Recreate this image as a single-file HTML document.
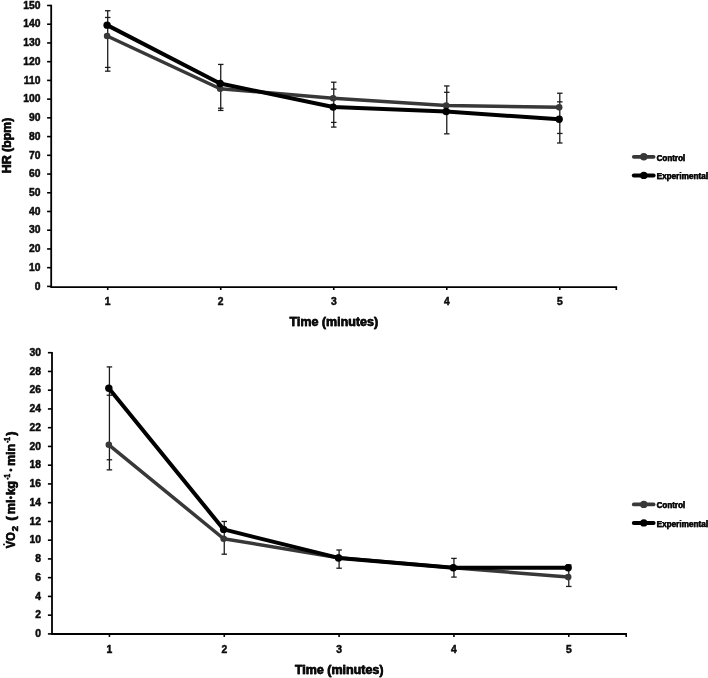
<!DOCTYPE html>
<html><head><meta charset="utf-8"><title>chart</title>
<style>html,body{margin:0;padding:0;background:#fff}svg{display:block;will-change:transform}text{font-family:"Liberation Sans",sans-serif}</style>
</head><body>
<svg width="708" height="678" viewBox="0 0 708 678">
<rect width="708" height="678" fill="#fff"/>
<path d="M51.2 4.75V287.1H617.10" stroke="#000" stroke-width="1.8" fill="none"/>
<g stroke="#000" stroke-width="1.6" fill="none">
<path d="M47.10 5.50H51.20"/>
<path d="M47.10 24.23H51.20"/>
<path d="M47.10 42.95H51.20"/>
<path d="M47.10 61.68H51.20"/>
<path d="M47.10 80.41H51.20"/>
<path d="M47.10 99.13H51.20"/>
<path d="M47.10 117.86H51.20"/>
<path d="M47.10 136.59H51.20"/>
<path d="M47.10 155.31H51.20"/>
<path d="M47.10 174.04H51.20"/>
<path d="M47.10 192.77H51.20"/>
<path d="M47.10 211.49H51.20"/>
<path d="M47.10 230.22H51.20"/>
<path d="M47.10 248.95H51.20"/>
<path d="M47.10 267.67H51.20"/>
<path d="M47.10 286.40H51.20"/>
<path d="M107.71 287.1V290.00"/>
<path d="M220.73 287.1V290.00"/>
<path d="M333.75 287.1V290.00"/>
<path d="M446.77 287.1V290.00"/>
<path d="M559.79 287.1V290.00"/>
<path d="M616.30 287.1V290.00"/>
</g>
<g font-size="10.3" font-weight="bold" text-anchor="end" fill="#0d0d0d" stroke="#0d0d0d" stroke-width="0.5">
<text x="40.40" y="8.70">150</text>
<text x="40.40" y="27.43">140</text>
<text x="40.40" y="46.15">130</text>
<text x="40.40" y="64.88">120</text>
<text x="40.40" y="83.61">110</text>
<text x="40.40" y="102.33">100</text>
<text x="40.40" y="121.06">90</text>
<text x="40.40" y="139.79">80</text>
<text x="40.40" y="158.51">70</text>
<text x="40.40" y="177.24">60</text>
<text x="40.40" y="195.97">50</text>
<text x="40.40" y="214.69">40</text>
<text x="40.40" y="233.42">30</text>
<text x="40.40" y="252.15">20</text>
<text x="40.40" y="270.87">10</text>
<text x="40.40" y="289.60">0</text>
</g>
<g font-size="10.3" font-weight="bold" text-anchor="middle" fill="#0d0d0d" stroke="#0d0d0d" stroke-width="0.5">
<text x="107.71" y="304.5">1</text>
<text x="220.73" y="304.5">2</text>
<text x="333.75" y="304.5">3</text>
<text x="446.77" y="304.5">4</text>
<text x="559.79" y="304.5">5</text>
</g>
<g stroke="#1c1c1c" stroke-width="1.3" fill="none">
<path d="M107.71 10.74V71.16"/>
<path d="M104.96 10.74H110.46"/>
<path d="M104.96 17.47H110.46"/>
<path d="M104.96 67.42H110.46"/>
<path d="M104.96 71.16H110.46"/>
<path d="M220.73 64.43V110.44"/>
<path d="M217.98 64.43H223.48"/>
<path d="M217.98 108.20H223.48"/>
<path d="M217.98 110.44H223.48"/>
<path d="M333.75 82.20V127.09"/>
<path d="M331.00 82.20H336.50"/>
<path d="M331.00 89.12H336.50"/>
<path d="M331.00 122.42H336.50"/>
<path d="M331.00 127.09H336.50"/>
<path d="M446.77 85.94V133.83"/>
<path d="M444.02 85.94H449.52"/>
<path d="M444.02 92.30H449.52"/>
<path d="M444.02 133.83H449.52"/>
<path d="M559.79 93.23V142.99"/>
<path d="M557.04 93.23H562.54"/>
<path d="M557.04 101.84H562.54"/>
<path d="M557.04 133.45H562.54"/>
<path d="M557.04 142.99H562.54"/>
</g>
<polyline points="107.11,35.99 220.13,88.74 333.15,98.29 446.17,105.58 559.19,107.36" fill="none" stroke="#383838" stroke-width="3.5" stroke-linejoin="round" stroke-linecap="round"/>
<circle cx="107.11" cy="35.99" r="3.3" fill="#383838"/>
<circle cx="220.13" cy="88.74" r="3.3" fill="#383838"/>
<circle cx="333.15" cy="98.29" r="3.3" fill="#383838"/>
<circle cx="446.17" cy="105.58" r="3.3" fill="#383838"/>
<circle cx="559.19" cy="107.36" r="3.3" fill="#383838"/>
<polyline points="107.11,25.14 220.13,83.51 333.15,107.08 446.17,111.57 559.19,119.24" fill="none" stroke="#000" stroke-width="4.0" stroke-linejoin="round" stroke-linecap="round"/>
<circle cx="107.11" cy="25.14" r="3.7" fill="#000"/>
<circle cx="220.13" cy="83.51" r="3.7" fill="#000"/>
<circle cx="333.15" cy="107.08" r="3.7" fill="#000"/>
<circle cx="446.17" cy="111.57" r="3.7" fill="#000"/>
<circle cx="559.19" cy="119.24" r="3.7" fill="#000"/>
<path d="M633.8 156.8H653.6" stroke="#383838" stroke-width="3.8" stroke-linecap="round"/>
<circle cx="643.8" cy="156.8" r="3.7" fill="#383838"/>
<text x="656.45" y="160.60" font-size="9.1" font-weight="bold" fill="#0d0d0d" stroke="#0d0d0d" stroke-width="0.25" textLength="28.6" lengthAdjust="spacingAndGlyphs">Control</text>
<text x="656.75" y="160.60" font-size="9.1" font-weight="bold" fill="#0d0d0d" stroke="#0d0d0d" stroke-width="0.25" textLength="28.6" lengthAdjust="spacingAndGlyphs">Control</text>
<path d="M633.8 175.4H653.6" stroke="#000" stroke-width="4.0" stroke-linecap="round"/>
<circle cx="643.8" cy="175.4" r="3.7" fill="#000"/>
<text x="656.45" y="179.20" font-size="9.1" font-weight="bold" fill="#0d0d0d" stroke="#0d0d0d" stroke-width="0.25" textLength="51.5" lengthAdjust="spacingAndGlyphs">Experimental</text>
<text x="656.75" y="179.20" font-size="9.1" font-weight="bold" fill="#0d0d0d" stroke="#0d0d0d" stroke-width="0.25" textLength="51.5" lengthAdjust="spacingAndGlyphs">Experimental</text>
<text x="289.30" y="326.2" font-size="12" font-weight="bold" fill="#0d0d0d" stroke="#0d0d0d" stroke-width="0.3" textLength="88.6" lengthAdjust="spacingAndGlyphs">Time (minutes)</text>
<text x="289.70" y="326.2" font-size="12" font-weight="bold" fill="#0d0d0d" stroke="#0d0d0d" stroke-width="0.3" textLength="88.6" lengthAdjust="spacingAndGlyphs">Time (minutes)</text>
<text transform="translate(10.7,173.00) rotate(-90)" font-size="12" font-weight="bold" fill="#0d0d0d" stroke="#0d0d0d" stroke-width="0.3" textLength="55.4" lengthAdjust="spacingAndGlyphs">HR (bpm)</text>
<text transform="translate(10.7,173.40) rotate(-90)" font-size="12" font-weight="bold" fill="#0d0d0d" stroke="#0d0d0d" stroke-width="0.3" textLength="55.4" lengthAdjust="spacingAndGlyphs">HR (bpm)</text>
<path d="M52.0 351.95V634.0H627.00" stroke="#000" stroke-width="1.8" fill="none"/>
<g stroke="#000" stroke-width="1.6" fill="none">
<path d="M47.90 352.70H52.00"/>
<path d="M47.90 371.45H52.00"/>
<path d="M47.90 390.19H52.00"/>
<path d="M47.90 408.94H52.00"/>
<path d="M47.90 427.69H52.00"/>
<path d="M47.90 446.43H52.00"/>
<path d="M47.90 465.18H52.00"/>
<path d="M47.90 483.93H52.00"/>
<path d="M47.90 502.67H52.00"/>
<path d="M47.90 521.42H52.00"/>
<path d="M47.90 540.17H52.00"/>
<path d="M47.90 558.91H52.00"/>
<path d="M47.90 577.66H52.00"/>
<path d="M47.90 596.41H52.00"/>
<path d="M47.90 615.15H52.00"/>
<path d="M47.90 633.90H52.00"/>
<path d="M109.42 634.0V636.90"/>
<path d="M224.26 634.0V636.90"/>
<path d="M339.10 634.0V636.90"/>
<path d="M453.94 634.0V636.90"/>
<path d="M568.78 634.0V636.90"/>
<path d="M626.20 634.0V636.90"/>
</g>
<g font-size="10.3" font-weight="bold" text-anchor="end" fill="#0d0d0d" stroke="#0d0d0d" stroke-width="0.5">
<text x="41.00" y="355.90">30</text>
<text x="41.00" y="374.65">28</text>
<text x="41.00" y="393.39">26</text>
<text x="41.00" y="412.14">24</text>
<text x="41.00" y="430.89">22</text>
<text x="41.00" y="449.63">20</text>
<text x="41.00" y="468.38">18</text>
<text x="41.00" y="487.13">16</text>
<text x="41.00" y="505.87">14</text>
<text x="41.00" y="524.62">12</text>
<text x="41.00" y="543.37">10</text>
<text x="41.00" y="562.11">8</text>
<text x="41.00" y="580.86">6</text>
<text x="41.00" y="599.61">4</text>
<text x="41.00" y="618.35">2</text>
<text x="41.00" y="637.10">0</text>
</g>
<g font-size="10.3" font-weight="bold" text-anchor="middle" fill="#0d0d0d" stroke="#0d0d0d" stroke-width="0.5">
<text x="109.42" y="652.7">1</text>
<text x="224.26" y="652.7">2</text>
<text x="339.10" y="652.7">3</text>
<text x="453.94" y="652.7">4</text>
<text x="568.78" y="652.7">5</text>
</g>
<g stroke="#1c1c1c" stroke-width="1.3" fill="none">
<path d="M109.42 366.91V469.86"/>
<path d="M106.67 366.91H112.17"/>
<path d="M106.67 395.24H112.17"/>
<path d="M106.67 459.76H112.17"/>
<path d="M106.67 469.86H112.17"/>
<path d="M224.26 521.47V554.19"/>
<path d="M221.51 521.47H227.01"/>
<path d="M221.51 530.35H227.01"/>
<path d="M221.51 554.19H227.01"/>
<path d="M339.10 549.99V568.22"/>
<path d="M336.35 549.99H341.85"/>
<path d="M336.35 568.22H341.85"/>
<path d="M453.94 558.40V577.10"/>
<path d="M451.19 558.40H456.69"/>
<path d="M451.19 577.10H456.69"/>
<path d="M568.78 564.95V586.45"/>
<path d="M566.03 564.95H571.53"/>
<path d="M566.03 586.45H571.53"/>
</g>
<polyline points="108.82,444.80 223.66,538.76 338.50,557.65 453.34,567.75 568.18,577.10" fill="none" stroke="#383838" stroke-width="3.5" stroke-linejoin="round" stroke-linecap="round"/>
<circle cx="108.82" cy="444.80" r="3.3" fill="#383838"/>
<circle cx="223.66" cy="538.76" r="3.3" fill="#383838"/>
<circle cx="338.50" cy="557.65" r="3.3" fill="#383838"/>
<circle cx="453.34" cy="567.75" r="3.3" fill="#383838"/>
<circle cx="568.18" cy="577.10" r="3.3" fill="#383838"/>
<polyline points="108.82,388.23 223.66,529.41 338.50,557.93 453.34,567.75 568.18,567.75" fill="none" stroke="#000" stroke-width="4.0" stroke-linejoin="round" stroke-linecap="round"/>
<circle cx="108.82" cy="388.23" r="3.7" fill="#000"/>
<circle cx="223.66" cy="529.41" r="3.7" fill="#000"/>
<circle cx="338.50" cy="557.93" r="3.7" fill="#000"/>
<circle cx="453.34" cy="567.75" r="3.7" fill="#000"/>
<circle cx="568.18" cy="567.75" r="3.7" fill="#000"/>
<path d="M633.8 504.4H653.6" stroke="#383838" stroke-width="3.8" stroke-linecap="round"/>
<circle cx="643.8" cy="504.4" r="3.7" fill="#383838"/>
<text x="656.45" y="508.20" font-size="9.1" font-weight="bold" fill="#0d0d0d" stroke="#0d0d0d" stroke-width="0.25" textLength="28.6" lengthAdjust="spacingAndGlyphs">Control</text>
<text x="656.75" y="508.20" font-size="9.1" font-weight="bold" fill="#0d0d0d" stroke="#0d0d0d" stroke-width="0.25" textLength="28.6" lengthAdjust="spacingAndGlyphs">Control</text>
<path d="M633.8 522.9H653.6" stroke="#000" stroke-width="4.0" stroke-linecap="round"/>
<circle cx="643.8" cy="522.9" r="3.7" fill="#000"/>
<text x="656.45" y="526.70" font-size="9.1" font-weight="bold" fill="#0d0d0d" stroke="#0d0d0d" stroke-width="0.25" textLength="51.5" lengthAdjust="spacingAndGlyphs">Experimental</text>
<text x="656.75" y="526.70" font-size="9.1" font-weight="bold" fill="#0d0d0d" stroke="#0d0d0d" stroke-width="0.25" textLength="51.5" lengthAdjust="spacingAndGlyphs">Experimental</text>
<text x="294.70" y="674.0" font-size="12" font-weight="bold" fill="#0d0d0d" stroke="#0d0d0d" stroke-width="0.3" textLength="88.6" lengthAdjust="spacingAndGlyphs">Time (minutes)</text>
<text x="295.10" y="674.0" font-size="12" font-weight="bold" fill="#0d0d0d" stroke="#0d0d0d" stroke-width="0.3" textLength="88.6" lengthAdjust="spacingAndGlyphs">Time (minutes)</text>
<g transform="translate(15,548.3) rotate(-90)" font-weight="bold" fill="#0d0d0d" stroke="#0d0d0d" stroke-width="0.3" font-size="12.5">
<text x="-0.20" y="0" textLength="16" lengthAdjust="spacingAndGlyphs">VO</text>
<text x="0.20" y="0" textLength="16" lengthAdjust="spacingAndGlyphs">VO</text>
<circle cx="3.9" cy="-11" r="1.0" stroke="none"/>
<text x="16.80" y="2.6" font-size="8.2" textLength="5.2" lengthAdjust="spacingAndGlyphs">2</text>
<text x="17.20" y="2.6" font-size="8.2" textLength="5.2" lengthAdjust="spacingAndGlyphs">2</text>
<text x="27.30" y="0" textLength="4.6" lengthAdjust="spacingAndGlyphs">(</text>
<text x="27.70" y="0" textLength="4.6" lengthAdjust="spacingAndGlyphs">(</text>
<text x="33.90" y="0" textLength="14.7" lengthAdjust="spacingAndGlyphs">ml</text>
<text x="34.30" y="0" textLength="14.7" lengthAdjust="spacingAndGlyphs">ml</text>
<circle cx="50.7" cy="-4.2" r="1.55" stroke="none"/>
<text x="53.00" y="0" textLength="14" lengthAdjust="spacingAndGlyphs">kg</text>
<text x="53.40" y="0" textLength="14" lengthAdjust="spacingAndGlyphs">kg</text>
<text x="68.50" y="-4.8" font-size="8.2" textLength="5.6" lengthAdjust="spacingAndGlyphs">-1</text>
<text x="68.90" y="-4.8" font-size="8.2" textLength="5.6" lengthAdjust="spacingAndGlyphs">-1</text>
<circle cx="78.3" cy="-4.2" r="1.55" stroke="none"/>
<text x="82.20" y="0" textLength="22.1" lengthAdjust="spacingAndGlyphs">min</text>
<text x="82.60" y="0" textLength="22.1" lengthAdjust="spacingAndGlyphs">min</text>
<text x="105.30" y="-4.8" font-size="8.2" textLength="5.6" lengthAdjust="spacingAndGlyphs">-1</text>
<text x="105.70" y="-4.8" font-size="8.2" textLength="5.6" lengthAdjust="spacingAndGlyphs">-1</text>
<text x="112.20" y="0" textLength="4.5" lengthAdjust="spacingAndGlyphs">)</text>
<text x="112.60" y="0" textLength="4.5" lengthAdjust="spacingAndGlyphs">)</text>
</g>
</svg></body></html>
